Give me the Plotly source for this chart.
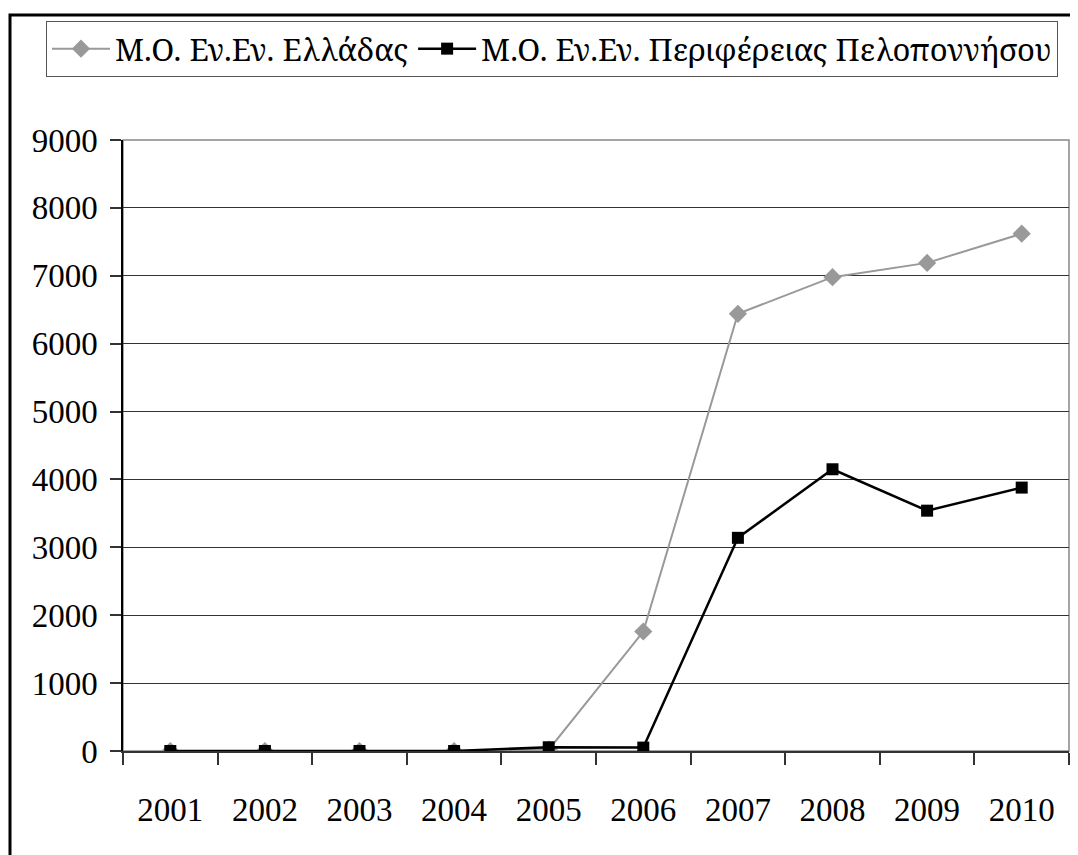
#!/usr/bin/python3

# Average values per year: Greece vs Peloponnese region
# Excel-like line chart with framed legend and plot area

import plotly.graph_objs as go

years = ['2001', '2002', '2003', '2004', '2005', '2006', '2007', '2008', '2009', '2010']
greece = [0, 0, 0, 0, 20, 1760, 6440, 6980, 7190, 7620]
peloponnese = [0, 0, 0, 0, 55, 50, 3140, 4150, 3540, 3880]

name_greece = 'Μ.Ο. Εν.Εν. Ελλάδας'
name_pelop = 'Μ.Ο. Εν.Εν. Περιφέρειας Πελοποννήσου'

y_ticks = [0, 1000, 2000, 3000, 4000, 5000, 6000, 7000, 8000, 9000]

# page body has an 8px margin, so work in reference pixels minus 8
OFF = 8
W, H = 1078 - OFF, 855 - OFF
ml, mr, mt, mb = 123 - OFF, 1078 - 1069, 140 - OFF, 855 - 751
pw = W - ml - mr
ph = H - mt - mb

def px(x):
    return (x - OFF - ml) / pw

def py(y):
    return (H - mb - (y - OFF)) / ph

font = 'Liberation Serif'
# Liberation Serif has no greek here, use Noto Serif for the legend
legend_font = 'Noto Serif'

fig = go.Figure()

fig.add_trace(go.Scatter(x=years, y=greece, name=name_greece, mode='lines+markers',
                         line=dict(color='#999999', width=2),
                         marker=dict(symbol='diamond', size=14, color='#999999')))

fig.add_trace(go.Scatter(x=years, y=peloponnese, name=name_pelop, mode='lines+markers',
                         line=dict(color='black', width=2.5),
                         marker=dict(symbol='square', size=12, color='black')))

fig.update_layout(
    width=W,
    height=H,
    margin=dict(l=ml, r=mr, t=mt, b=mb, autoexpand=False),
    plot_bgcolor='white',
    paper_bgcolor='white',
    font=dict(family=font, size=33, color='black'),
    showlegend=True,
    legend=dict(orientation='h', x=px(46), y=py(21), xanchor='left', yanchor='top',
                bordercolor='#555555', borderwidth=1, bgcolor='white',
                font=dict(family=legend_font, size=31, color='black'),
                itemwidth=58, tracegroupgap=0),
    shapes=[
        # plot area frame (top/right in grey)
        dict(type='rect', xref='paper', yref='paper', x0=0, x1=1, y0=0, y1=1,
             line=dict(color='#888888', width=1.5), layer='below'),
        # outer chart frame
        dict(type='rect', xref='paper', yref='paper', x0=px(10), x1=px(1090),
             y0=py(870), y1=py(15), line=dict(color='black', width=3)),
    ],
)

fig.update_xaxes(type='category', range=[-0.5, 9.5], showgrid=False,
                 showline=True, linewidth=2, linecolor='#333333',
                 ticks='outside', tickson='boundaries', ticklen=12, tickwidth=1.5,
                 tickcolor='#333333', ticklabelstandoff=28,
                 tickfont=dict(family=font, size=33, color='black'))

fig.update_yaxes(range=[0, 9000], tickvals=y_ticks, showgrid=True,
                 gridcolor='#333333', gridwidth=1, zeroline=False,
                 showline=True, linewidth=1.5, linecolor='black',
                 ticks='outside', ticklen=11, tickwidth=1.5, tickcolor='#333333',
                 ticklabelstandoff=6,
                 tickfont=dict(family=font, size=33, color='black'))

fig.write_html('out.html')
